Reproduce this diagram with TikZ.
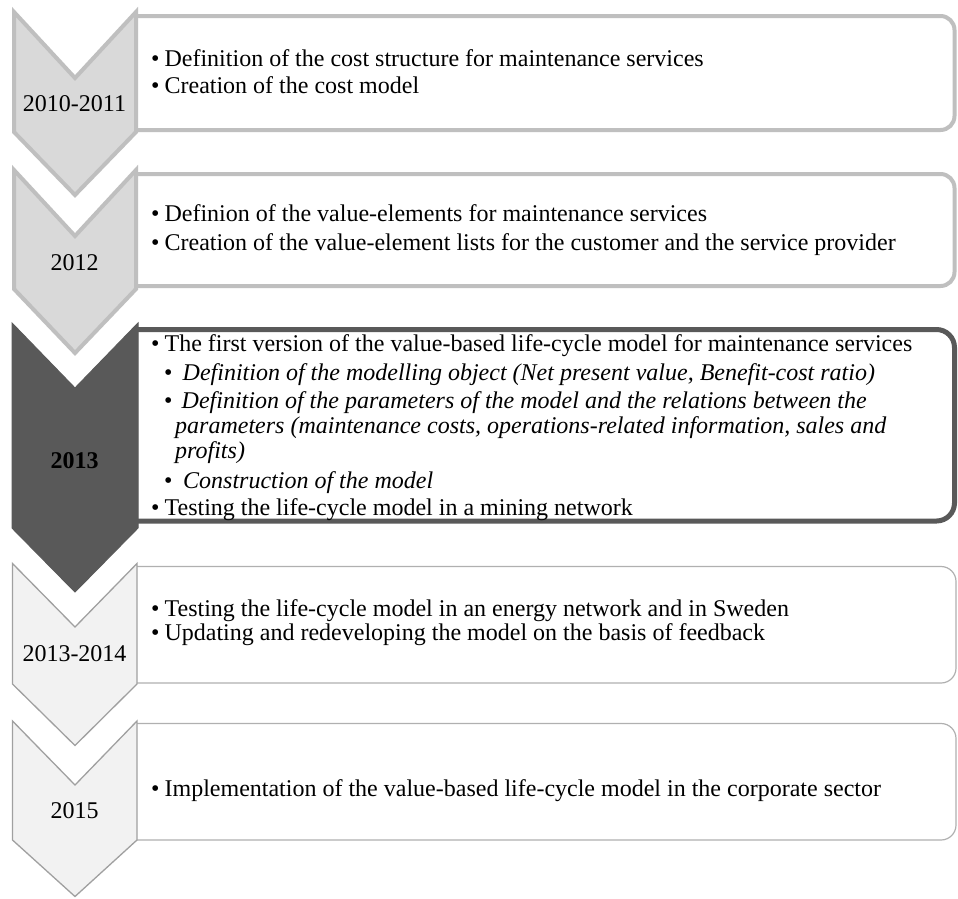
\documentclass[tikz,border=0pt]{standalone}
\usepackage{fontspec}
\setmainfont{Liberation Serif}
\definecolor{cLight}{HTML}{D9D9D9}
\definecolor{cLightB}{HTML}{BFBFBF}
\definecolor{cDark}{HTML}{595959}
\definecolor{cPale}{HTML}{F2F2F2}
\definecolor{cPaleB}{HTML}{A0A0A0}
\definecolor{cThin}{HTML}{B0B0B0}
\begin{document}
\begin{tikzpicture}[x=1pt,y=-1pt,
  chevA/.style={fill=cLight,draw=cLightB,line width=4pt},
  chevB/.style={fill=cDark,draw=cDark,line width=1pt},
  chevC/.style={fill=cPale,draw=cPaleB,line width=1.3pt},
  boxA/.style={draw=cLightB,line width=4pt,rounded corners=14pt},
  boxB/.style={draw=cDark,line width=5pt,rounded corners=18pt},
  boxC/.style={draw=cThin,line width=1.2pt,rounded corners=15pt},
  txt/.style={anchor=base west,inner sep=0pt,font=\fontsize{24}{28}\selectfont},
  itx/.style={anchor=base west,inner sep=0pt,font=\fontsize{24}{28}\selectfont\itshape},
  yr/.style={anchor=base,inner sep=0pt,font=\fontsize{24}{28}\selectfont},
  yrb/.style={anchor=base,inner sep=0pt,font=\fontsize{24}{28}\selectfont\bfseries}]
\useasboundingbox[fill=white] (0,0) rectangle (958,898);
% boxes
\draw[boxA] (137,16) -- (954.5,16) -- (954.5,130) -- (137,130);
\draw[boxA] (137,174) -- (954.5,174) -- (954.5,286) -- (137,286);
\draw[boxB] (137,329.5) -- (954.5,329.5) -- (954.5,521) -- (137,521);
\draw[boxC] (137,566.5) -- (956,566.5) -- (956,683) -- (137,683);
\draw[boxC] (137,723.5) -- (956,723.5) -- (956,840) -- (137,840);
% chevrons
\draw[chevA] (14,12) -- (75,78) -- (136,12) -- (136,132) -- (75,195) -- (14,132) -- cycle;
\draw[chevA] (14,170) -- (75,236) -- (136,170) -- (136,289) -- (75,353) -- (14,289) -- cycle;
\draw[chevB] (12,323) -- (75,388) -- (138,323) -- (138,528) -- (75,592) -- (12,528) -- cycle;
\draw[chevC] (12.5,563.5) -- (75,627) -- (137,563.5) -- (137,684) -- (75,745.5) -- (12.5,684) -- cycle;
\draw[chevC] (12.5,721) -- (75,785) -- (137,721) -- (137,840) -- (75,896.5) -- (12.5,840) -- cycle;
% years
\node[yr] (y1) at (74.5,111.7) {2010-2011};
\node[yr] (y2) at (74.5,270) {2012};
\node[yrb] (y3) at (74.5,468) {2013};
\node[yr] (y4) at (74.5,661.7) {2013-2014};
\node[yr] (y5) at (74.5,818.3) {2015};
% box 1
\node[txt] (t11) at (151,66.7) {\textbullet\hspace{5pt}Definition of the cost structure for maintenance services};
\node[txt] (t12) at (151,93.3) {\textbullet\hspace{5pt}Creation of the cost model};
% box 2
\node[txt] (t21) at (151,221.7) {\textbullet\hspace{5pt}Definion of the value-elements for maintenance services};
\node[txt] (t22) at (151,250) {\textbullet\hspace{5pt}Creation of the value-element lists for the customer and the service provider};
% box 3
\node[txt] (t31) at (151,351.7) {\textbullet\hspace{5pt}The first version of the value-based life-cycle model for maintenance services};
\node[txt] (t32b) at (164,380) {\textbullet};
\node[itx] (t32) at (182.5,380) {Definition of the modelling object (Net present value, Benefit-cost ratio)};
\node[txt] (t33b) at (164,408.3) {\textbullet};
\node[itx] (t33) at (181.5,408.3) {Definition of the parameters of the model and the relations between the};
\node[itx] (t34) at (175,433.3) {parameters (maintenance costs, operations-related information, sales and};
\node[itx] (t35) at (175,458.3) {profits)};
\node[txt] (t36b) at (164,488.3) {\textbullet};
\node[itx] (t36) at (183,488.3) {Construction of the model};
\node[txt] (t37) at (151,515) {\textbullet\hspace{5pt}Testing the life-cycle model in a mining network};
% box 4
\node[txt] (t41) at (151,616.7) {\textbullet\hspace{5pt}Testing the life-cycle model in an energy network and in Sweden};
\node[txt] (t42) at (151,640) {\textbullet\hspace{5pt}Updating and redeveloping the model on the basis of feedback};
% box 5
\node[txt] (t51) at (151,796.7) {\textbullet\hspace{5pt}Implementation of the value-based life-cycle model in the corporate sector};
\end{tikzpicture}
\end{document}
